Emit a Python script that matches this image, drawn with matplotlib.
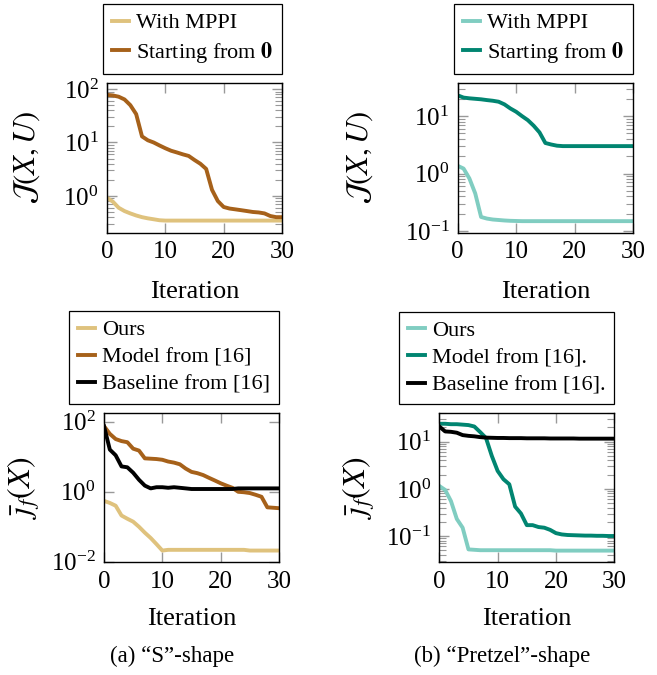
import matplotlib
matplotlib.use("Agg")
import matplotlib.pyplot as plt
from matplotlib.ticker import LogLocator, NullLocator, NullFormatter

plt.rcParams['font.family'] = ['Liberation Serif', 'DejaVu Serif']
plt.rcParams['mathtext.fontset'] = 'stix'

# iterations 0..30
iters = list(range(31))

# "S"-shape, cost J(X,U)
s_mppi = [0.92, 0.78, 0.60, 0.52, 0.47, 0.43, 0.40, 0.38, 0.365, 0.35, 0.345,
          0.345, 0.345, 0.345, 0.345, 0.345, 0.345, 0.345, 0.345, 0.345, 0.345,
          0.345, 0.345, 0.345, 0.345, 0.345, 0.345, 0.345, 0.345, 0.345, 0.345]
s_zero = [78, 76, 72, 64, 50, 34, 13, 11, 10, 8.8, 7.8, 7.0, 6.5, 6.0, 5.6,
          4.7, 4.0, 3.2, 1.3, 0.80, 0.62, 0.58, 0.56, 0.54, 0.52, 0.50, 0.49,
          0.47, 0.42, 0.40, 0.40]

# "Pretzel"-shape, cost J(X,U)
p_mppi = [1.36, 1.22, 0.82, 0.45, 0.175, 0.164, 0.158, 0.155, 0.152, 0.150,
          0.149, 0.148, 0.148, 0.148, 0.148, 0.148, 0.148, 0.148, 0.148, 0.148,
          0.148, 0.148, 0.148, 0.148, 0.148, 0.148, 0.148, 0.148, 0.148, 0.148,
          0.148]
p_zero = [23, 21, 20.4, 20, 19.6, 19, 18.5, 17.8, 16, 13.6, 11.9, 10, 8.5, 6.8,
          5.2, 3.4, 3.2, 3.05, 3.0, 3.0, 3.0, 3.0, 3.0, 3.0, 3.0, 3.0, 3.0, 3.0,
          3.0, 3.0, 3.0]

# "S"-shape, final cost
s_ours = [0.55, 0.48, 0.40, 0.21, 0.17, 0.14, 0.10, 0.068, 0.048, 0.032, 0.021,
          0.022, 0.022, 0.022, 0.022, 0.022, 0.022, 0.022, 0.022, 0.022, 0.022,
          0.022, 0.022, 0.022, 0.022, 0.021, 0.021, 0.021, 0.021, 0.021, 0.021]
s_model = [75, 45, 32, 28, 26, 17, 15, 9.0, 8.8, 8.6, 8.2, 7.3, 6.8, 6.1, 4.6,
           3.7, 3.4, 3.0, 2.5, 2.1, 1.75, 1.5, 1.3, 1.0, 0.97, 0.92, 0.82, 0.72,
           0.36, 0.35, 0.34]
s_base = [75, 16, 11, 5.3, 5.0, 3.5, 2.2, 1.5, 1.25, 1.35, 1.35, 1.3, 1.35, 1.3,
          1.25, 1.2, 1.2, 1.2, 1.2, 1.2, 1.2, 1.2, 1.2, 1.25, 1.25, 1.25, 1.25,
          1.25, 1.25, 1.25, 1.25]

# "Pretzel"-shape, final cost
p_ours = [1.15, 0.95, 0.55, 0.23, 0.15, 0.052, 0.051, 0.050, 0.050, 0.050,
          0.050, 0.050, 0.050, 0.050, 0.050, 0.050, 0.050, 0.050, 0.050, 0.050,
          0.049, 0.049, 0.049, 0.049, 0.049, 0.049, 0.049, 0.049, 0.049, 0.049,
          0.049]
p_model = [24, 24, 23.5, 23.5, 23, 22.5, 21, 16, 12, 5.0, 2.4, 1.6, 1.25, 0.42,
           0.30, 0.17, 0.17, 0.155, 0.15, 0.135, 0.115, 0.108, 0.105, 0.104,
           0.103, 0.102, 0.102, 0.101, 0.101, 0.100, 0.100]
p_base = [21, 16.5, 16.2, 15.5, 13.8, 13.3, 13, 12.5, 12.2, 12.1, 12.0, 12.0,
          11.9, 11.9, 11.9, 11.8, 11.8, 11.8, 11.8, 11.7, 11.7, 11.7, 11.7, 11.7,
          11.6, 11.6, 11.6, 11.6, 11.6, 11.6, 11.6]

gold, brown = '#dfc27d', '#a6611a'
lteal, dteal = '#80cdc1', '#018571'

W, H = 657, 675
fig = plt.figure(figsize=(W / 100, H / 100), dpi=100)


def make_ax(left, right, top, bottom):
    return fig.add_axes([left / W, 1 - bottom / H, (right - left) / W, (bottom - top) / H])


def style(ax, ylim, minor=True, xpad=12):
    ax.set_yscale('log')
    ax.set_xlim(0, 30)
    ax.set_ylim(*ylim)
    ax.set_xticks([0, 10, 20, 30])
    if minor:
        ax.yaxis.set_minor_locator(LogLocator(base=10, subs=range(2, 10)))
    else:
        ax.set_yticks([1e-2, 1e0, 1e2])
        ax.yaxis.set_minor_locator(NullLocator())
    ax.yaxis.set_minor_formatter(NullFormatter())
    ax.tick_params(which='both', direction='in', top=True, right=True,
                   color='#999999', labelsize=18, pad=6)
    ax.tick_params(which='major', length=7, width=1)
    ax.tick_params(which='minor', length=5, width=0.8)
    for sp in ax.spines.values():
        sp.set_linewidth(1)
    ax.set_xlabel('Iteration', fontsize=19, labelpad=xpad)


def legend(ax):
    gap = 9 / 150
    lg = ax.legend(loc='lower right', bbox_to_anchor=(1, 1 + gap), borderaxespad=0,
                   fancybox=False, edgecolor='black', framealpha=1, fontsize=16,
                   handlelength=0.75, handletextpad=0.32, labelspacing=0.3,
                   borderpad=0.4)
    lg.get_frame().set_linewidth(0.9)


lw = 2.8

ax1 = make_ax(107, 282, 83, 233)
ax1.plot(iters, s_mppi, color=gold, lw=lw, label='With MPPI')
ax1.plot(iters, s_zero, color=brown, lw=lw, label=r'Starting from $\mathbf{0}$')
style(ax1, (0.202, 130), xpad=13)
ax1.set_ylabel(r'$\mathcal{J}(X, U)$', fontsize=22)
ax1.yaxis.set_label_coords(-0.371, 0.5)
legend(ax1)

ax2 = make_ax(457.7, 633, 83, 233)
ax2.plot(iters, p_mppi, color=lteal, lw=lw, label='With MPPI')
ax2.plot(iters, p_zero, color=dteal, lw=lw, label=r'Starting from $\mathbf{0}$')
style(ax2, (0.092, 37.7), xpad=13)
ax2.set_ylabel(r'$\mathcal{J}(X, U)$', fontsize=22)
ax2.yaxis.set_label_coords(-0.472, 0.5)
legend(ax2)

ax3 = make_ax(104, 279, 412.7, 562.3)
ax3.plot(iters, s_ours, color=gold, lw=lw, label='Ours')
ax3.plot(iters, s_model, color=brown, lw=lw, label='Model from [16]')
ax3.plot(iters, s_base, color='black', lw=lw, label='Baseline from [16]')
style(ax3, (0.0097, 181), minor=False, xpad=11)
ax3.set_ylabel(r'$\bar{\jmath}_f(X)$', fontsize=23)
ax3.yaxis.set_label_coords(-0.354, 0.5)
legend(ax3)

ax4 = make_ax(439.3, 614.3, 413.3, 562.3)
ax4.plot(iters, p_ours, color=lteal, lw=lw, label='Ours')
ax4.plot(iters, p_model, color=dteal, lw=lw, label='Model from [16].')
ax4.plot(iters, p_base, color='black', lw=lw, label='Baseline from [16].')
style(ax4, (0.0277, 40), xpad=11)
ax4.set_ylabel(r'$\bar{\jmath}_f(X)$', fontsize=23)
ax4.yaxis.set_label_coords(-0.356, 0.5)
legend(ax4)

fig.text(172.5 / W, 1 - 656 / H, '(a) \u201cS\u201d-shape', ha='center', va='center', fontsize=16.5)
fig.text(502.6 / W, 1 - 656 / H, '(b) \u201cPretzel\u201d-shape', ha='center', va='center', fontsize=16.5)

fig.savefig('out.png', dpi=100)
